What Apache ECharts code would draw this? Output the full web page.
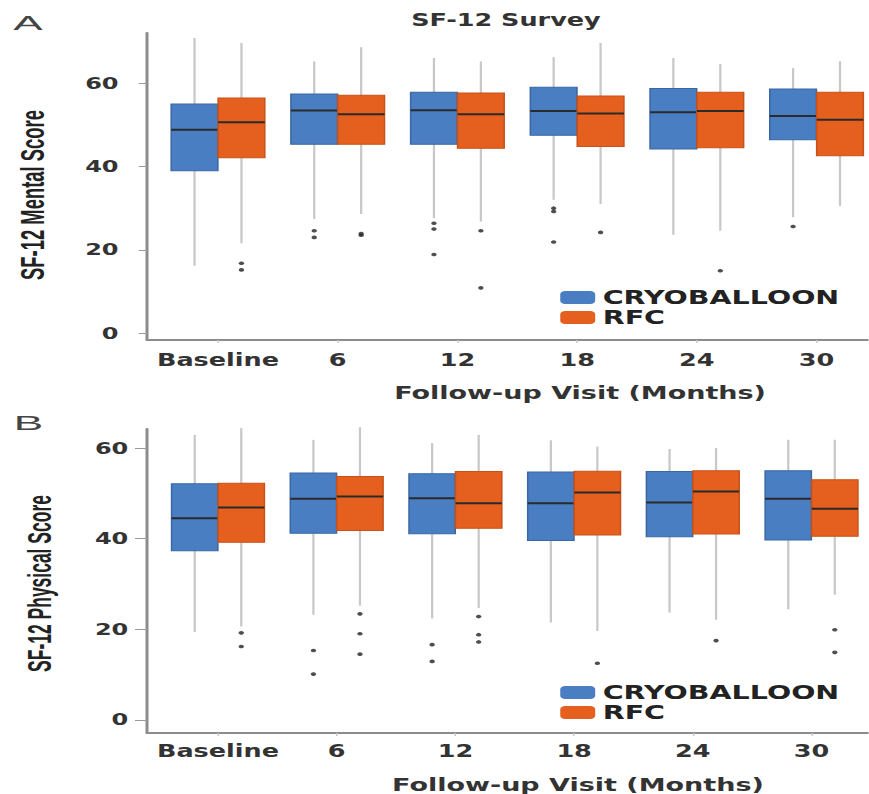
<!DOCTYPE html>
<html><head><meta charset="utf-8">
<script src="https://cdn.jsdelivr.net/npm/echarts@6/dist/echarts.min.js"></script>
<style>
html,body{margin:0;padding:0;background:#fff;overflow:hidden}
#wrap{width:869px;height:794px;overflow:hidden;position:relative}
#c{width:579.333px;height:794px;transform:scaleX(1.5);transform-origin:0 0}
</style>
</head><body><div id="wrap"><div id="c"></div></div>
<script>
// ---------- data ----------
const categories = ['Baseline', '6', '12', '18', '24', '30'];
const seriesNames = ['CRYOBALLOON', 'RFC'];
const yTicks = [0, 20, 40, 60];
// [min, Q1, median, Q3, max]
const mentalCryo = [
  [16.2, 39.0, 48.8, 55.0, 70.8],
  [27.4, 45.3, 53.4, 57.4, 65.2],
  [27.6, 45.3, 53.5, 57.8, 66.0],
  [32.0, 47.5, 53.3, 59.0, 66.2],
  [23.6, 44.2, 53.0, 58.7, 66.0],
  [27.8, 46.4, 52.1, 58.6, 63.6]
];
const mentalRfc = [
  [21.6, 42.1, 50.6, 56.4, 69.6],
  [28.6, 45.3, 52.5, 57.1, 68.6],
  [26.8, 44.4, 52.5, 57.6, 65.2],
  [31.0, 44.8, 52.7, 56.9, 69.6],
  [24.6, 44.5, 53.3, 57.8, 64.6],
  [30.5, 42.6, 51.2, 57.8, 65.2]
];
// [category index, value]
const mentalCryoOut = [[1, 24.6], [1, 23.0], [2, 26.4], [2, 25.0], [2, 18.9], [3, 30.0], [3, 29.2], [3, 21.9], [5, 25.6]];
const mentalRfcOut = [[0, 16.8], [0, 15.2], [1, 23.9], [1, 23.5], [2, 24.6], [2, 10.9], [3, 24.2], [4, 15.0]];

const physCryo = [
  [19.4, 37.3, 44.5, 52.1, 62.9],
  [23.2, 41.2, 48.8, 54.5, 61.8],
  [22.4, 41.1, 48.9, 54.3, 61.1],
  [21.5, 39.6, 47.8, 54.7, 61.7],
  [23.7, 40.4, 48.0, 54.8, 59.8],
  [24.4, 39.7, 48.8, 55.0, 61.8]
];
const physRfc = [
  [20.6, 39.2, 46.9, 52.2, 64.4],
  [25.2, 41.8, 49.3, 53.7, 64.6],
  [24.7, 42.3, 47.8, 54.8, 62.9],
  [19.6, 40.8, 50.2, 54.9, 60.3],
  [22.1, 41.0, 50.4, 55.0, 60.0],
  [27.6, 40.5, 46.6, 53.0, 61.8]
];
const physCryoOut = [[1, 15.3], [1, 10.1], [2, 16.6], [2, 12.9]];
const physRfcOut = [[0, 19.2], [0, 16.2], [1, 23.4], [1, 19.0], [1, 14.5], [2, 22.8], [2, 18.8], [2, 17.2], [3, 12.5], [4, 17.5], [5, 19.9], [5, 14.9]];

// ---------- style ----------
const BLUE = '#4a7ec3', BLUE_EDGE = '#3a67a3';
const ORANGE = '#e5601f', ORANGE_EDGE = '#c85119';
const OFF = 0.196, BOX_W = 0.39;
const BOLD = '"DejaVu Sans", Verdana, sans-serif';

function boxRenderer(off, fill, stroke) {
  return function (params, api) {
    const x = api.value(0) + off;
    const p = k => api.coord([x, api.value(k)]);
    const lo = p(1), q1 = p(2), md = p(3), q3 = p(4), hi = p(5);
    const w = api.size([BOX_W, 0])[0];
    const cx = lo[0];
    return {
      type: 'group',
      children: [
        { type: 'line', shape: { x1: cx, y1: hi[1], x2: cx, y2: lo[1] }, style: { stroke: '#c8c8c8', lineWidth: 1.5 } },
        { type: 'rect', shape: { x: cx - w / 2, y: q3[1], width: w, height: q1[1] - q3[1] }, style: { fill: fill, stroke: stroke, lineWidth: 1 } },
        { type: 'line', shape: { x1: cx - w / 2, y1: md[1], x2: cx + w / 2, y2: md[1] }, style: { stroke: '#2a2a2a', lineWidth: 2 } }
      ]
    };
  };
}
function boxSeries(name, arr, off, fill, stroke, axisIdx) {
  return {
    type: 'custom', name: name, xAxisIndex: axisIdx, yAxisIndex: axisIdx,
    itemStyle: { color: fill, borderColor: stroke },
    renderItem: boxRenderer(off, fill, stroke),
    encode: { x: 0, y: [1, 2, 3, 4, 5] },
    data: arr.map((d, i) => [i].concat(d)),
    z: 2
  };
}
function outSeries(name, arr, off, axisIdx) {
  return {
    type: 'scatter', name: name, xAxisIndex: axisIdx, yAxisIndex: axisIdx,
    symbol: 'circle', symbolSize: 3.6, itemStyle: { color: '#222' },
    data: arr.map(d => [d[0] + off, d[1]]), z: 3
  };
}
function xAxisDef(gi, min, max, margin) {
  return {
    type: 'value', gridIndex: gi, min: min, max: max,
    axisLine: { show: true, onZero: false, lineStyle: { color: '#8c8c8c', width: 2 } },
    axisTick: { show: true, customValues: [0, 1, 2, 3, 4, 5], length: 3, lineStyle: { color: '#c8c8c8' } },
    axisLabel: { customValues: [0, 1, 2, 3, 4, 5], formatter: v => categories[Math.round(v)], margin: margin,
      fontFamily: BOLD, fontWeight: 'bold', fontSize: 17, color: '#333' },
    splitLine: { show: false }
  };
}
function yAxisDef(gi, min, max, margin, tickLen) {
  return {
    type: 'value', gridIndex: gi, min: min, max: max,
    axisLine: { show: true, onZero: false, lineStyle: { color: '#8c8c8c', width: 2 } },
    axisTick: { show: true, customValues: yTicks, length: tickLen, lineStyle: { color: '#9a9a9a', width: 1 } },
    axisLabel: { customValues: yTicks, margin: margin, fontFamily: BOLD, fontWeight: 'bold', fontSize: 16, color: '#333' },
    splitLine: { show: false }
  };
}
function legendDef(top) {
  return {
    data: seriesNames, orient: 'vertical', left: 368.5, top: top,
    itemWidth: 23.3, itemHeight: 13, itemGap: 1, icon: 'roundRect',
    textStyle: { fontFamily: BOLD, fontWeight: 'bold', fontSize: 19, color: '#222', lineHeight: 19 },
    selectedMode: false
  };
}

// measure text to fit vertical axis titles to the reference length
const mctx = document.createElement('canvas').getContext('2d');
function fitScale(text, font, target) { mctx.font = font; return target / mctx.measureText(text).width; }
const YT_FONT = 'bold 22px "Liberation Sans", Arial, sans-serif';
const yTitleA = 'SF-12 Mental Score', yTitleB = 'SF-12 Physical Score';

function txt(text, x, y, font, fill, extra) {
  return Object.assign({
    type: 'text', x: x, y: y, silent: true,
    style: { text: text, font: font, fill: fill, align: 'center', verticalAlign: 'middle', textAlign: 'center', textVerticalAlign: 'middle' }
  }, extra || {});
}

const chart = echarts.init(document.getElementById('c'), null, { renderer: 'svg' });
chart.setOption({
  animation: false,
  backgroundColor: '#fff',
  grid: [
    { left: 98, right: 0, top: 33, height: 307, containLabel: false, outerBoundsMode: 'none' },
    { left: 98, right: 0, top: 429, height: 304, containLabel: false, outerBoundsMode: 'none' }
  ],
  xAxis: [xAxisDef(0, -0.593, 5.434, 12), xAxisDef(1, -0.598, 5.48, 10)],
  yAxis: [yAxisDef(0, -1.6, 72, 19, 5.5), yAxisDef(1, -2.9, 64.2, 12.5, 8)],
  legend: [legendDef(283), legendDef(678)],
  graphic: [
    txt('A', 18.7, 22.5, '21px "Liberation Sans", Arial, sans-serif', '#444', { scaleX: 1.4 }),
    txt('B', 19, 422.5, '21px "Liberation Sans", Arial, sans-serif', '#444', { scaleX: 1.4 }),
    txt('SF-12 Survey', 337.3, 20, 'bold 17px ' + BOLD, '#333'),
    txt('Follow-up Visit (Months)', 386.7, 393, 'bold 18px ' + BOLD, '#333'),
    txt('Follow-up Visit (Months)', 385.3, 785, 'bold 18px ' + BOLD, '#333'),
    txt(yTitleA, 21.7, 195, YT_FONT, '#222', { rotation: Math.PI / 2, scaleX: fitScale(yTitleA, YT_FONT, 170) }),
    txt(yTitleB, 26.7, 583.5, YT_FONT, '#222', { rotation: Math.PI / 2, scaleX: fitScale(yTitleB, YT_FONT, 177) })
  ],
  series: [
    boxSeries('CRYOBALLOON', mentalCryo, -OFF, BLUE, BLUE_EDGE, 0),
    boxSeries('RFC', mentalRfc, OFF, ORANGE, ORANGE_EDGE, 0),
    outSeries('CRYOBALLOON outliers A', mentalCryoOut, -OFF, 0),
    outSeries('RFC outliers A', mentalRfcOut, OFF, 0),
    boxSeries('CRYOBALLOON', physCryo, -OFF, BLUE, BLUE_EDGE, 1),
    boxSeries('RFC', physRfc, OFF, ORANGE, ORANGE_EDGE, 1),
    outSeries('CRYOBALLOON outliers B', physCryoOut, -OFF, 1),
    outSeries('RFC outliers B', physRfcOut, OFF, 1)
  ]
});
</script>
</body></html>
